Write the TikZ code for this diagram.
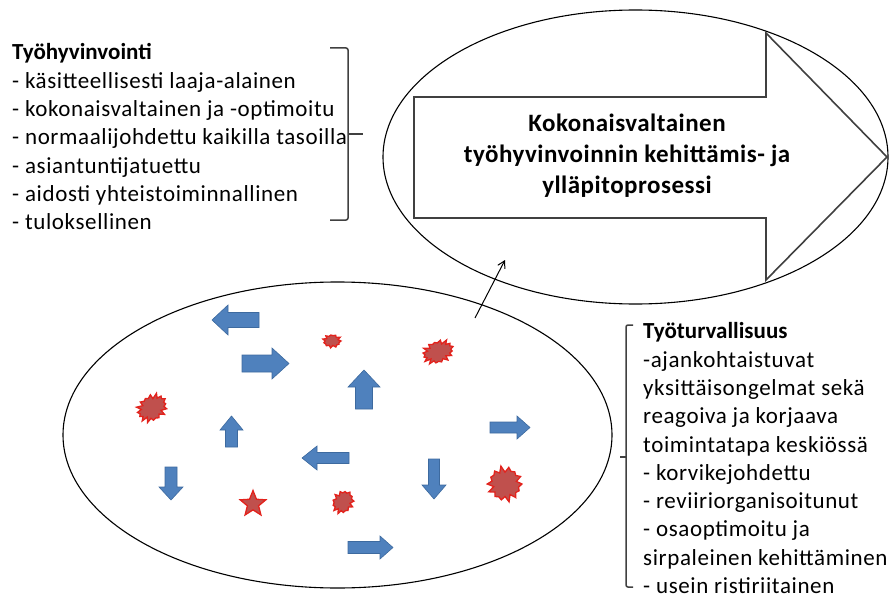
\documentclass[tikz,border=0pt]{standalone}
\usepackage{fontspec}
\setmainfont{Carlito}
\newfontfamily\listfont[LetterSpace=2.7]{Carlito}
\newfontfamily\headfont[LetterSpace=2.0]{Carlito}
\usetikzlibrary{arrows.meta,shapes.geometric}

\definecolor{officeblue}{HTML}{4F81BD}
\definecolor{blueedge}{HTML}{3D6A9F}
\definecolor{splatred}{HTML}{C0504D}
\definecolor{splatedge}{HTML}{E3221C}
\definecolor{inkgrey}{HTML}{404040}

\tikzset{
  frame/.style={draw=black, line width=1.1pt, ellipse, inner sep=0pt},
  bigarrow/.style={draw=inkgrey, fill=white, line width=1.6pt, line join=miter},
  bluearrow/.style={fill=officeblue, draw=blueedge, line width=0.6pt},
  splatshape/.style={fill=splatred, draw=splatedge, line width=1.3pt, line join=miter},
  bracket/.style={draw=inkgrey, line width=1.5pt, rounded corners=2pt},
  listtext/.style={inner sep=0pt, align=left, anchor=north west,
    font=\fontsize{23}{28.3}\selectfont\listfont},
  headtext/.style={inner sep=0pt, align=center,
    font=\fontsize{25}{31}\selectfont\headfont\bfseries},
  link/.style={draw=black, line width=1pt, -{Straight Barb[length=7pt,width=8pt]}}
}

% list heading, set without the extra letter spacing
\newcommand\listhead[1]{{\normalfont\bfseries #1}}

% block arrow: centre x, centre y, angle, length, shaft half width, head half width, head length
\newcommand\blockarrow[7]{%
  \filldraw[bluearrow, shift={(#1,#2)}, rotate=#3]
    ({-#4/2},{-#5}) -- ({#4/2-#7},{-#5}) -- ({#4/2-#7},{-#6}) -- ({#4/2},0)
    -- ({#4/2-#7},{#6}) -- ({#4/2-#7},{#5}) -- ({-#4/2},{#5}) -- cycle;}

% jagged blot: centre x, centre y, radius x, radius y, rotation, number of spikes
\newcommand\splat[6]{%
  \pgfmathtruncatemacro\splatlast{2*#6-1}%
  \filldraw[splatshape, shift={(#1,#2)}, rotate=#5]
    (#3,0) \foreach \k in {1,...,\splatlast} {
      -- ({cos(\k*180/#6)*#3*(1-0.24*mod(\k,2)+0.08*sin(\k*131))},
          {sin(\k*180/#6)*#4*(1-0.24*mod(\k,2)+0.08*sin(\k*131))}) } -- cycle;}

\begin{document}
\begin{tikzpicture}[x=1pt, y=-1pt]
\useasboundingbox (0,0) rectangle (895,602);

% the two ellipses
\node[frame, minimum width=505pt, minimum height=294pt] (process) at (635.5,157) {};
\node[frame, minimum width=549pt, minimum height=306pt] (field) at (337.5,435) {};

% process arrow inside the upper ellipse
\filldraw[bigarrow] (414,97) -- (766,97) -- (766,33) -- (887,157)
  -- (766,280) -- (766,218) -- (414,218) -- cycle;
\node[headtext] (processlabel) at (627,156)
  {Kokonaisvaltainen\\työhyvinvoinnin kehittämis- ja\\ylläpitoprosessi};

% scattered arrows
\blockarrow{235.5}{320}{180}{47}{7.5}{15}{16}
\blockarrow{265.5}{363.5}{0}{47}{8.5}{15.5}{17}
\blockarrow{364}{389.5}{90}{39}{8.5}{16}{17}
\blockarrow{231.5}{431.5}{90}{31}{6}{11.5}{14}
\blockarrow{325.5}{458}{180}{47}{5.5}{12}{15}
\blockarrow{510}{427.5}{0}{40}{5.5}{11.5}{13}
\blockarrow{171}{483.5}{-90}{33}{6}{12}{13}
\blockarrow{434}{479}{-90}{40}{5.5}{12}{14}
\blockarrow{370.5}{547.5}{0}{45}{6}{11.5}{13}

% scattered blots
\splat{332}{341}{9}{6.5}{0}{11}
\splat{438}{352}{16}{11}{20}{16}
\splat{152}{408}{16}{12.5}{35}{16}
\splat{343}{502}{12}{10}{55}{13}
\splat{505}{484}{17}{17}{0}{14}
\node[star, star points=5, star point ratio=2.3, minimum size=27pt, inner sep=0pt,
  splatshape] (star) at (253,504) {};

% link from the field to the process
\coordinate (linkfrom) at (475,318);
\coordinate (linkto) at (505,260);
\draw[link] (linkfrom) -- (linkto);

% left list and its bracket
\node[listtext] (wellbeing) at (12,43.5)
  {\listhead{Työhyvinvointi}\\
   - käsitteellisesti laaja-alainen\\
   - kokonaisvaltainen ja -optimoitu\\
   - normaalijohdettu kaikilla tasoilla\\
   - asiantuntijatuettu\\
   - aidosti yhteistoiminnallinen\\
   - tuloksellinen};
\draw[bracket] (330,48) -- (348,48) -- (348,220) -- (330,220);
\draw[bracket] (348,134) -- (363,134);

% right list and its bracket
\node[listtext] (safety) at (643,322.5)
  {\listhead{Työturvallisuus}\\
   -ajankohtaistuvat\\
   yksittäisongelmat sekä\\
   reagoiva ja korjaava\\
   toimintatapa keskiössä\\
   - korvikejohdettu\\
   - reviiriorganisoitunut\\
   - osaoptimoitu ja\\
   sirpaleinen kehittäminen\\
   - usein ristiriitainen};
\draw[bracket] (633,325) -- (626,325) -- (626,587) -- (633,587);
\draw[bracket] (626,457) -- (620,457);
\end{tikzpicture}
\end{document}
